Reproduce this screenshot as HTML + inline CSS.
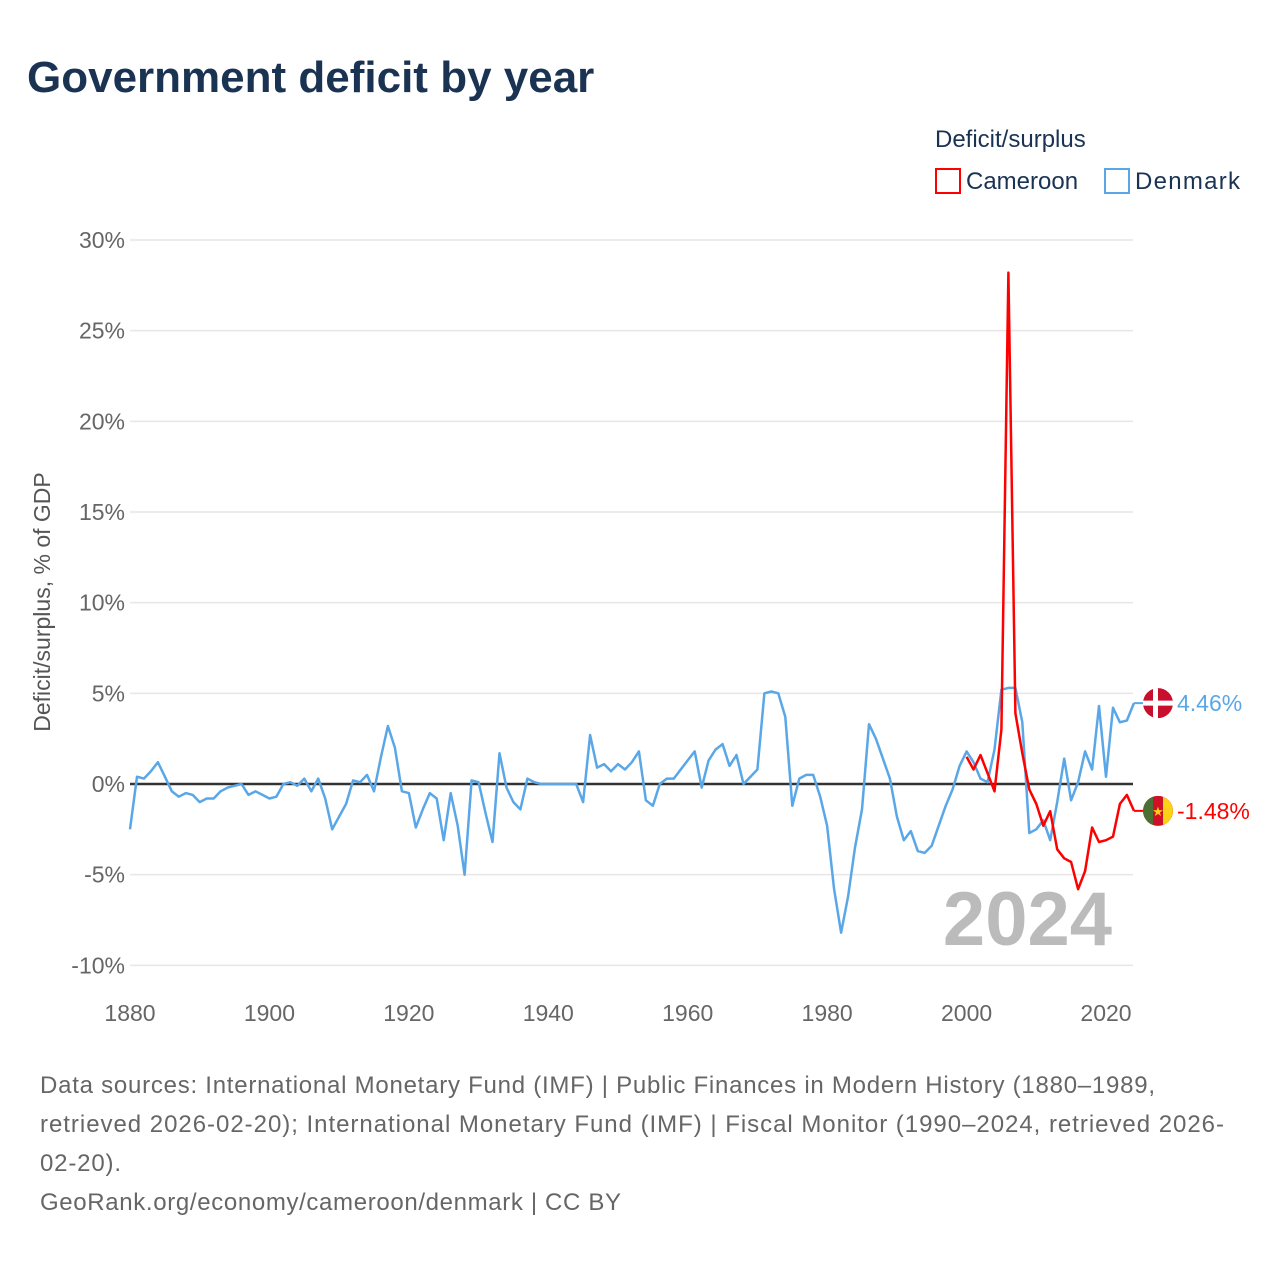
<!DOCTYPE html>
<html><head><meta charset="utf-8"><style>
body{margin:0;background:#fff;font-family:"Liberation Sans",sans-serif;}
</style></head><body>
<svg id="chart" width="1280" height="1280" xmlns="http://www.w3.org/2000/svg" font-family="Liberation Sans, sans-serif">
<rect width="1280" height="1280" fill="#fff"/>
<text x="27" y="92" font-size="44" font-weight="bold" fill="#1b3353">Government deficit by year</text>
<text x="935" y="147" font-size="24" fill="#1b3353">Deficit/surplus</text>
<g><rect x="936" y="169" width="24" height="24" fill="none" stroke="#f00" stroke-width="2"/><text x="966" y="189" font-size="24" fill="#1b3353">Cameroon</text></g>
<g><rect x="1105" y="169" width="24" height="24" fill="none" stroke="#5aa7e8" stroke-width="2"/><text x="1135" y="189" font-size="24" fill="#1b3353" textLength="105">Denmark</text></g>
<text transform="translate(50,602) rotate(-90)" text-anchor="middle" font-size="23" fill="#555">Deficit/surplus, % of GDP</text>
<g id="grid"></g><g id="series"></g>
<text x="1112" y="945" text-anchor="end" font-size="76" font-weight="bold" fill="#bbb">2024</text>
<text font-size="24" fill="#666">
<tspan x="40" y="1093" textLength="1115">Data sources: International Monetary Fund (IMF) | Public Finances in Modern History (1880–1989,</tspan>
<tspan x="40" y="1132" textLength="1184">retrieved 2026-02-20); International Monetary Fund (IMF) | Fiscal Monitor (1990–2024, retrieved 2026-</tspan>
<tspan x="40" y="1171" textLength="81">02-20).</tspan>
<tspan x="40" y="1210" textLength="581">GeoRank.org/economy/cameroon/denmark | CC BY</tspan>
</text>
</svg>
<script>
const yTicks=[-10,-5,0,5,10,15,20,25,30];
const xTicks=[1880,1900,1920,1940,1960,1980,2000,2020];
const denmarkStart=1880;
const denmarkValues=[-2.5,0.4,0.3,0.7,1.2,0.4,-0.4,-0.7,-0.5,-0.6,-1.0,-0.8,-0.8,-0.4,-0.2,-0.1,0.0,-0.6,-0.4,-0.6,-0.8,-0.7,0.0,0.1,-0.1,0.3,-0.4,0.3,-0.8,-2.5,-1.8,-1.1,0.2,0.1,0.5,-0.4,1.5,3.2,2.0,-0.4,-0.5,-2.4,-1.4,-0.5,-0.8,-3.1,-0.5,-2.3,-5.0,0.2,0.1,-1.6,-3.2,1.7,-0.2,-1.0,-1.4,0.3,0.1,0.0,0.0,0.0,0.0,0.0,0.0,-1.0,2.7,0.9,1.1,0.7,1.1,0.8,1.2,1.8,-0.9,-1.2,0.0,0.3,0.3,0.8,1.3,1.8,-0.2,1.3,1.9,2.2,1.0,1.6,0.0,0.4,0.8,5.0,5.1,5.0,3.7,-1.2,0.3,0.5,0.5,-0.7,-2.3,-5.8,-8.2,-6.2,-3.5,-1.4,3.3,2.5,1.4,0.3,-1.8,-3.1,-2.6,-3.7,-3.8,-3.4,-2.3,-1.2,-0.3,1.0,1.8,1.2,0.3,0.1,1.9,5.2,5.3,5.3,3.4,-2.7,-2.5,-2.0,-3.1,-1.0,1.4,-0.9,0.1,1.8,0.8,4.3,0.4,4.2,3.4,3.5,4.46];
const cameroonStart=2000;
const cameroonValues=[1.5,0.8,1.6,0.6,-0.4,3.0,28.2,3.9,1.7,-0.3,-1.1,-2.3,-1.5,-3.6,-4.1,-4.3,-5.8,-4.8,-2.4,-3.2,-3.1,-2.9,-1.1,-0.6,-1.48];
const NS='http://www.w3.org/2000/svg';
const X=y=>130+(y-1880)*(976/140);
const Y=v=>784-v*(544/30);
const grid=document.getElementById('grid'),ser=document.getElementById('series');
function mk(t,a,p){const e=document.createElementNS(NS,t);for(const k in a)e.setAttribute(k,a[k]);p.appendChild(e);return e;}
yTicks.forEach(v=>{
  const l=mk('line',{x1:130,x2:1133,y1:Y(v),y2:Y(v),stroke:v===0?'#333':'#e6e6e6','stroke-width':v===0?2.5:1.5},grid);
  
  
  const t=mk('text',{x:125,y:Y(v)+8,'text-anchor':'end','font-size':23,fill:'#666'},grid);t.textContent=v+'%';
  
  
});
xTicks.forEach(y=>{
  const t=mk('text',{x:X(y),y:1021,'text-anchor':'middle','font-size':23,fill:'#666'},grid);t.textContent=y;
  
  
});
function line(start,vals,color,name){
  const d=vals.map((v,i)=>(i?'L':'M')+X(start+i).toFixed(1)+','+Y(v).toFixed(1)).join('');
  const p=mk('path',{d:d,fill:'none',stroke:color,'stroke-width':2.5,'stroke-linejoin':'round'},ser);
  
  
}
line(denmarkStart,denmarkValues,'#5aa7e8','denmark-line');
line(cameroonStart,cameroonValues,'#f00','cameroon-line');
function endLabel(vals,start,color,name,flag){
  const v=vals[vals.length-1],yy=Y(v),xe=X(start+vals.length-1);
  mk('line',{x1:xe,x2:1150,y1:yy,y2:yy,stroke:color,'stroke-width':2},ser);
  const g=mk('g',{},ser);
  
  
  flag(g,1158,yy);
  const t=mk('text',{x:1177,y:yy+8,'font-size':23,fill:color},ser);t.textContent=v.toFixed(2)+'%';
  
  
}
endLabel(denmarkValues,denmarkStart,'#5aa7e8','denmark',(g,x,y)=>{
  mk('circle',{cx:x,cy:y,r:15,fill:'#c8102e'},g);
  mk('rect',{x:x-15,y:y-2.5,width:30,height:5,fill:'#fff'},g);
  mk('rect',{x:x-5,y:y-15,width:5,height:30,fill:'#fff'},g);
});
endLabel(cameroonValues,cameroonStart,'#f00','cameroon',(g,x,y)=>{
  mk('circle',{cx:x,cy:y,r:15,fill:'#ce1126'},g);
  mk('path',{d:`M${x-5},${y-14.1}A15,15 0 0 0 ${x-5},${y+14.1}Z`,fill:'#4a7034'},g);
  mk('path',{d:`M${x+5},${y-14.1}A15,15 0 0 1 ${x+5},${y+14.1}Z`,fill:'#fcd116'},g);
  const t=mk('text',{x:x,y:y+5,'text-anchor':'middle','font-size':13,fill:'#fcd116'},g);t.textContent='★';
});
</script>
</body></html>
